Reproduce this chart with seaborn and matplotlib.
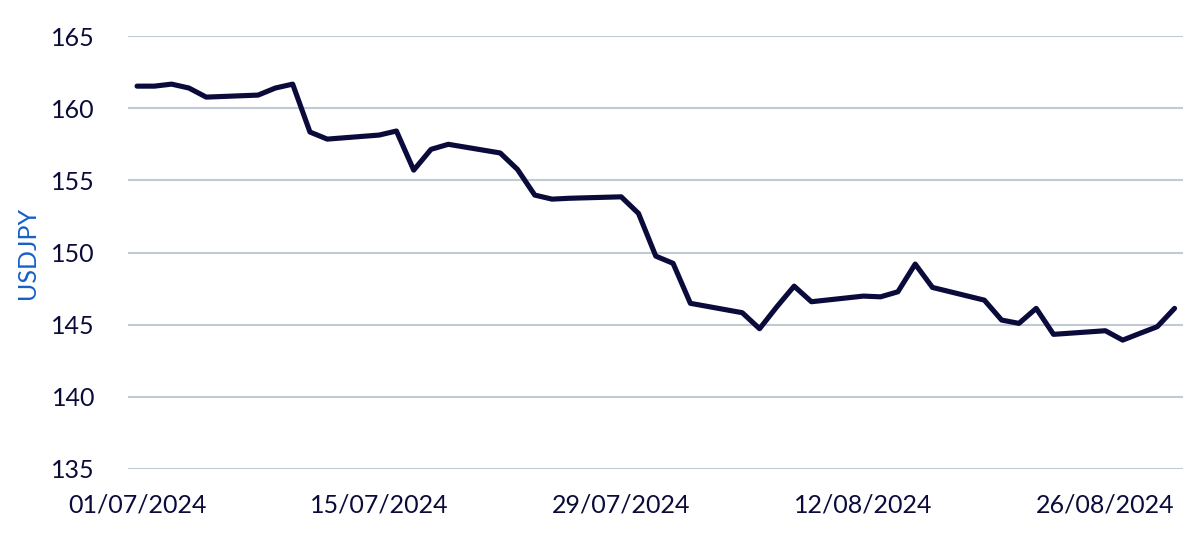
import pandas as pd
import matplotlib.pyplot as plt
import matplotlib.dates as mdates
import seaborn as sns

# USDJPY daily closes (business days)
dates = [
    "2024-07-01", "2024-07-02", "2024-07-03", "2024-07-04", "2024-07-05",
    "2024-07-08", "2024-07-09", "2024-07-10", "2024-07-11", "2024-07-12",
    "2024-07-15", "2024-07-16", "2024-07-17", "2024-07-18", "2024-07-19",
    "2024-07-22", "2024-07-23", "2024-07-24", "2024-07-25", "2024-07-26",
    "2024-07-29", "2024-07-30", "2024-07-31", "2024-08-01", "2024-08-02",
    "2024-08-05", "2024-08-06", "2024-08-07", "2024-08-08", "2024-08-09",
    "2024-08-12", "2024-08-13", "2024-08-14", "2024-08-15", "2024-08-16",
    "2024-08-19", "2024-08-20", "2024-08-21", "2024-08-22", "2024-08-23",
    "2024-08-26", "2024-08-27", "2024-08-28", "2024-08-29", "2024-08-30",
]
usdjpy = [
    161.53, 161.53, 161.67, 161.40, 160.77,
    160.91, 161.40, 161.67, 158.35, 157.86,
    158.14, 158.42, 155.71, 157.15, 157.50,
    156.90, 155.76, 153.98, 153.70, 153.76,
    153.86, 152.71, 149.75, 149.25, 146.48,
    145.83, 144.72, 146.24, 147.67, 146.59,
    146.98, 146.93, 147.28, 149.20, 147.58,
    146.70, 145.32, 145.09, 146.13, 144.33,
    144.58, 143.93, 144.40, 144.86, 146.13,
]
tick_dates = ["2024-07-01", "2024-07-15", "2024-07-29", "2024-08-12", "2024-08-26"]
y_ticks = [135, 140, 145, 150, 155, 160, 165]

df = pd.DataFrame({"Date": pd.to_datetime(dates), "USDJPY": usdjpy})

sns.set_theme(style="white")
plt.rcParams['font.family'] = ['Lato', 'DejaVu Sans']

navy = "#0b0b3b"
fig, ax = plt.subplots(figsize=(12, 5.55), dpi=100)
fig.subplots_adjust(left=0.107, right=0.986, top=0.935, bottom=0.155)

sns.lineplot(data=df, x="Date", y="USDJPY", color=navy, linewidth=3.7, ax=ax)

ax.set_ylim(135, 165)
ax.set_yticks(y_ticks)
ax.set_xlim(pd.Timestamp("2024-07-01") - pd.Timedelta(hours=12),
            pd.Timestamp("2024-08-30") + pd.Timedelta(hours=12))
ax.set_xticks(pd.to_datetime(tick_dates))
ax.xaxis.set_major_formatter(mdates.DateFormatter("%d/%m/%Y"))

ax.grid(axis="y", color="#c0cad5", linewidth=1.5)
ax.set_axisbelow(True)
for s in ax.spines.values():
    s.set_visible(False)
ax.tick_params(axis="both", length=0, labelsize=18, colors=navy)
ax.tick_params(axis="x", pad=18)
ax.tick_params(axis="y", pad=24)

ax.set_xlabel("")
ax.set_ylabel("USDJPY", color="#1560c8", fontsize=18, labelpad=9)

plt.savefig("out.png", dpi=100)
plt.close()
